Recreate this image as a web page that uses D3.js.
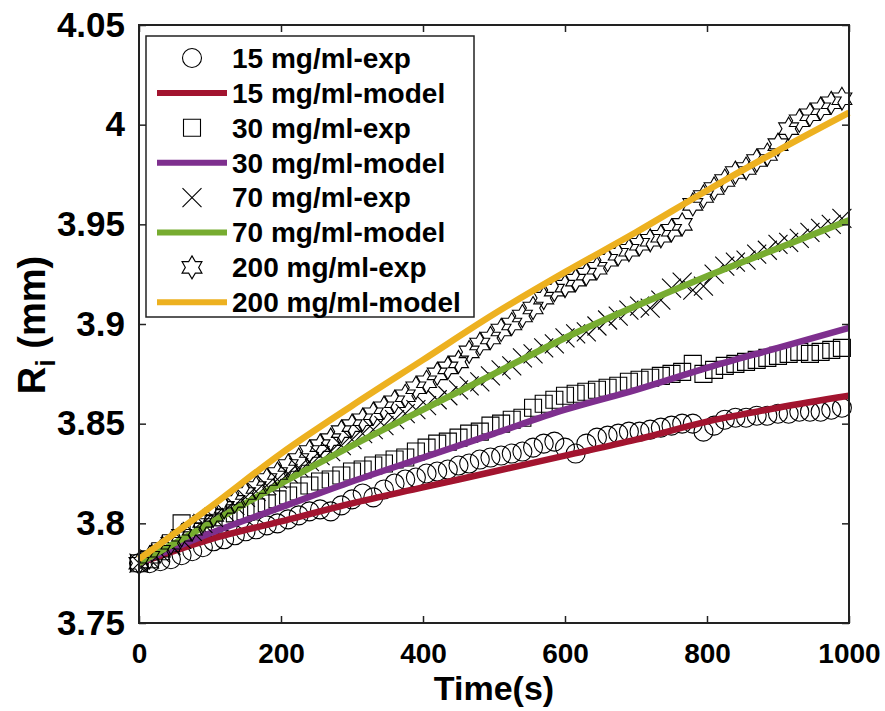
<!doctype html>
<head>
  <meta charset="utf-8">
  <script src="https://cdn.jsdelivr.net/npm/d3@7"></script>
  <style>
    body { margin: 0; background: #fff; }
    text { font-family: "Liberation Sans", Arial, sans-serif; font-weight: bold; fill: #000; }
  </style>
</head>
<body>
<div id="viz"></div>
<script>

// sample times of the measurements (s)
var times = [0, 15, 30, 45, 60, 75, 90, 105, 120, 135, 150, 165, 180, 195, 210, 225, 240, 255, 270, 285,
  300, 315, 330, 345, 360, 375, 390, 405, 420, 435, 450, 465, 480, 495, 510, 525, 540, 555, 570, 585,
  600, 615, 630, 645, 660, 675, 690, 705, 720, 735, 750, 765, 780, 795, 810, 825, 840, 855, 870, 885,
  900, 915, 930, 945, 960, 975, 990]

var exp15 = [3.780, 3.780, 3.781, 3.782, 3.784, 3.786, 3.788, 3.791, 3.792, 3.794, 3.796, 3.797, 3.799, 3.800, 3.802, 3.804, 3.806, 3.807, 3.806, 3.809,
  3.812, 3.815, 3.813, 3.817, 3.820, 3.822, 3.823, 3.825, 3.826, 3.827, 3.829, 3.830, 3.832, 3.833, 3.834, 3.835, 3.836, 3.838, 3.840, 3.841,
  3.838, 3.835, 3.840, 3.843, 3.844, 3.845, 3.846, 3.846, 3.847, 3.848, 3.849, 3.850, 3.850, 3.846, 3.849, 3.852, 3.853, 3.853, 3.854, 3.854,
  3.855, 3.855, 3.856, 3.856, 3.856, 3.857, 3.858]

var exp30 = [3.780, 3.782, 3.786, 3.790, 3.800, 3.796, 3.798, 3.800, 3.803, 3.805, 3.806, 3.808, 3.810, 3.812, 3.814, 3.816, 3.819, 3.821, 3.822, 3.824,
  3.826, 3.827, 3.829, 3.830, 3.832, 3.833, 3.836, 3.838, 3.840, 3.841, 3.843, 3.845, 3.846, 3.849, 3.850, 3.852, 3.853, 3.858, 3.860, 3.862,
  3.864, 3.865, 3.866, 3.867, 3.868, 3.869, 3.871, 3.872, 3.873, 3.874, 3.875, 3.876, 3.880, 3.875, 3.877, 3.879, 3.880, 3.881, 3.882, 3.883,
  3.884, 3.885, 3.886, 3.885, 3.886, 3.887, 3.888]

var exp70 = [3.780, 3.782, 3.785, 3.789, 3.792, 3.796, 3.800, 3.803, 3.806, 3.809, 3.813, 3.816, 3.819, 3.822, 3.825, 3.828, 3.831, 3.834, 3.836, 3.839,
  3.842, 3.845, 3.847, 3.849, 3.852, 3.855, 3.857, 3.859, 3.862, 3.864, 3.867, 3.869, 3.871, 3.874, 3.877, 3.879, 3.883, 3.885, 3.888, 3.890,
  3.893, 3.895, 3.896, 3.899, 3.902, 3.904, 3.907, 3.909, 3.908, 3.912, 3.918, 3.921, 3.917, 3.919, 3.925, 3.929, 3.931, 3.932, 3.935, 3.937,
  3.940, 3.941, 3.943, 3.946, 3.948, 3.950, 3.953]

var exp200 = [3.780, 3.783, 3.786, 3.790, 3.794, 3.797, 3.801, 3.804, 3.808, 3.811, 3.815, 3.818, 3.822, 3.825, 3.829, 3.832, 3.836, 3.839, 3.842, 3.846,
  3.849, 3.852, 3.855, 3.858, 3.861, 3.864, 3.868, 3.871, 3.875, 3.878, 3.881, 3.886, 3.890, 3.893, 3.897, 3.900, 3.904, 3.908, 3.913, 3.917,
  3.919, 3.922, 3.925, 3.928, 3.932, 3.935, 3.937, 3.940, 3.942, 3.944, 3.947, 3.950, 3.960, 3.964, 3.968, 3.972, 3.976, 3.978, 3.982, 3.985,
  3.990, 3.998, 4.002, 4.005, 4.008, 4.011, 4.013]

// model curves
var modelTimes = [0, 100, 200, 300, 400, 500, 600, 700, 800, 900, 1000]
var model15 = [3.780, 3.792, 3.801, 3.810, 3.818, 3.826, 3.834, 3.842, 3.851, 3.858, 3.864]
var model30 = [3.780, 3.795, 3.808, 3.821, 3.833, 3.845, 3.857, 3.867, 3.878, 3.888, 3.898]
var model70 = [3.780, 3.800, 3.820, 3.839, 3.857, 3.875, 3.893, 3.909, 3.924, 3.938, 3.952]
var model200 = [3.782, 3.808, 3.835, 3.859, 3.882, 3.905, 3.926, 3.946, 3.967, 3.987, 4.006]

var xTicks = [0, 200, 400, 600, 800, 1000]
var yTicks = [3.75, 3.8, 3.85, 3.9, 3.95, 4, 4.05]

var series = [
  { name: '15 mg/ml-exp', kind: 'exp', marker: 'circle', values: exp15 },
  { name: '15 mg/ml-model', kind: 'model', color: '#A2142F', values: model15 },
  { name: '30 mg/ml-exp', kind: 'exp', marker: 'square', values: exp30 },
  { name: '30 mg/ml-model', kind: 'model', color: '#7E2F8E', values: model30 },
  { name: '70 mg/ml-exp', kind: 'exp', marker: 'cross', values: exp70 },
  { name: '70 mg/ml-model', kind: 'model', color: '#77AC30', values: model70 },
  { name: '200 mg/ml-exp', kind: 'exp', marker: 'hexagram', values: exp200 },
  { name: '200 mg/ml-model', kind: 'model', color: '#EDB120', values: model200 }
]

var W = 885, H = 711
var margin = { left: 139, top: 25, right: 36, bottom: 88 }
var w = W - margin.left - margin.right
var h = H - margin.top - margin.bottom

var svg = d3.select('#viz').append('svg')
  .attr('width', W)
  .attr('height', H)

var g = svg.append('g').attr('transform', 'translate(' + margin.left + ',' + margin.top + ')')

var x = d3.scaleLinear().domain([0, 1000]).range([0, w])
var y = d3.scaleLinear().domain([3.75, 4.05]).range([h, 0])

// marker shapes
function markerPath(type) {
  if (type == 'circle') return d3.symbol().type(d3.symbolCircle).size(Math.PI * 9.5 * 9.5)()
  if (type == 'square') return 'M-8.5,-8.5H8.5V8.5H-8.5Z'
  if (type == 'cross') return 'M-9.5,-9.5L9.5,9.5M-9.5,9.5L9.5,-9.5'
  // six pointed star
  var R = 11.5, r = R / Math.sqrt(3), pts = []
  for (var i = 0; i < 12; i++) {
    var a = -Math.PI / 2 + i * Math.PI / 6
    var rr = i % 2 == 0 ? R : r
    pts.push([rr * Math.cos(a), rr * Math.sin(a)])
  }
  return 'M' + pts.join('L') + 'Z'
}

var line = d3.line()
  .x(function(d) { return x(d[0]); })
  .y(function(d) { return y(d[1]); })
  .curve(d3.curveMonotoneX)

series.forEach(function(s) {
  if (s.kind == 'model') {
    g.append('path')
      .datum(modelTimes.map(function(t, i) { return [t, s.values[i]]; }))
      .attr('d', line)
      .style('fill', 'none')
      .style('stroke', s.color)
      .style('stroke-width', 6.5)
  } else {
    g.append('g').selectAll('path')
      .data(times.map(function(t, i) { return [t, s.values[i]]; }))
      .enter()
      .append('path')
      .attr('d', markerPath(s.marker))
      .attr('transform', function(d) { return 'translate(' + x(d[0]) + ',' + y(d[1]) + ')'; })
      .style('fill', 'none')
      .style('stroke', '#000')
      .style('stroke-width', 1.1)
  }
})

// axes box with inward ticks on all sides
var tickLen = 7
var xa = g.append('g').attr('transform', 'translate(0,' + h + ')')
  .call(d3.axisBottom(x).tickValues(xTicks).tickSizeInner(-tickLen).tickSizeOuter(0).tickPadding(20)
    .tickFormat(d3.format('d')))
g.append('g')
  .call(d3.axisTop(x).tickValues(xTicks).tickSizeInner(-tickLen).tickSizeOuter(0).tickFormat(''))
var ya = g.append('g')
  .call(d3.axisLeft(y).tickValues(yTicks).tickSizeInner(-tickLen).tickSizeOuter(0).tickPadding(14)
    .tickFormat(function(d) { return String(+d.toFixed(2)); }))
g.append('g').attr('transform', 'translate(' + w + ',0)')
  .call(d3.axisRight(y).tickValues(yTicks).tickSizeInner(-tickLen).tickSizeOuter(0).tickFormat(''))

g.selectAll('.domain').remove()
g.selectAll('.tick line').style('stroke', '#222').style('stroke-width', 1.5)
g.append('rect')
  .attr('width', w).attr('height', h)
  .style('fill', 'none').style('stroke', '#222').style('stroke-width', 2)

g.selectAll('.tick text').style('font-family', '"Liberation Sans", Arial, sans-serif').style('font-weight', 'bold')
xa.selectAll('.tick text').style('font-size', '28px')
ya.selectAll('.tick text').style('font-size', '35px')

// axis titles
svg.append('text')
  .attr('x', margin.left + w / 2)
  .attr('y', 700)
  .attr('text-anchor', 'middle')
  .style('font-size', '34px')
  .text('Time(s)')

var yt = svg.append('text')
  .attr('transform', 'translate(45,325) rotate(-90)')
  .attr('text-anchor', 'middle')
  .style('font-size', '38px')
yt.append('tspan').text('R')
yt.append('tspan').attr('dy', 10).style('font-size', '27px').text('i')
yt.append('tspan').attr('dy', -10).text(' (mm)')

// legend
var lg = svg.append('g').attr('transform', 'translate(146,36)')
lg.append('rect')
  .attr('width', 328).attr('height', 281)
  .style('fill', '#fff').style('stroke', '#222').style('stroke-width', 1.5)

var rows = lg.selectAll('.row')
  .data(series)
  .enter()
  .append('g')
  .attr('transform', function(d, i) { return 'translate(0,' + (22 + i * 34.9) + ')'; })

rows.filter(function(d) { return d.kind == 'model'; })
  .append('line')
  .attr('x1', 11).attr('x2', 81)
  .style('stroke', function(d) { return d.color; })
  .style('stroke-width', 6)

rows.filter(function(d) { return d.kind == 'exp'; })
  .append('path')
  .attr('d', function(d) { return markerPath(d.marker); })
  .attr('transform', 'translate(46,0)')
  .style('fill', 'none')
  .style('stroke', '#000')
  .style('stroke-width', 1.1)

rows.append('text')
  .attr('x', 86)
  .attr('dy', '0.35em')
  .style('font-size', '28px')
  .text(function(d) { return d.name; })

</script>
</body>
